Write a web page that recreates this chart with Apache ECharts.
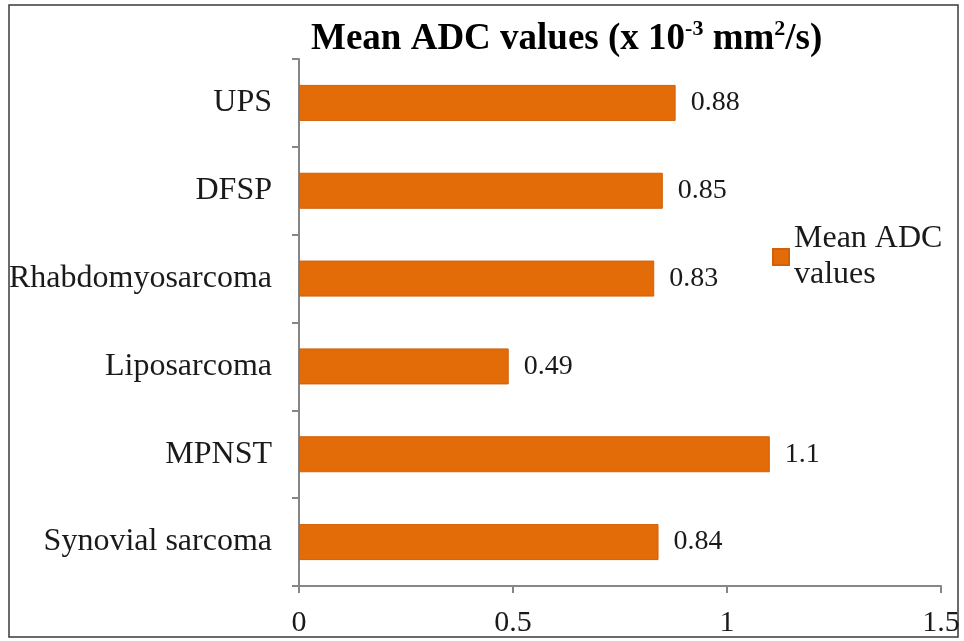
<!DOCTYPE html>
<html><head><meta charset="utf-8">
<script src="https://cdn.jsdelivr.net/npm/echarts@6/dist/echarts.min.js"></script>
<style>html,body{margin:0;padding:0;background:#fff}#c{width:964px;height:641px}</style>
</head><body><div id="c"></div>
<script>
var categories = ['UPS', 'DFSP', 'Rhabdomyosarcoma', 'Liposarcoma', 'MPNST', 'Synovial sarcoma'];
var meanADC = [0.88, 0.85, 0.83, 0.49, 1.1, 0.84];
var seriesName = 'Mean ADC values';
var xTicks = {min: 0, max: 1.5, interval: 0.5};

var FONT = "'Liberation Serif', 'Times New Roman', serif";
var chart = echarts.init(document.getElementById('c'));
chart.setOption({
  animation: false,
  backgroundColor: '#fff',
  title: {
    left: 311, top: 18, padding: 0,
    text: '{b|Mean ADC values (x 10}{s|-3}{b| mm}{s|2}{b|/s)}',
    textStyle: {
      rich: {
        b: {fontFamily: FONT, fontWeight: 'bold', fontSize: 37, color: '#000', lineHeight: 42},
        s: {fontFamily: FONT, fontWeight: 'bold', fontSize: 22, color: '#000', lineHeight: 32, verticalAlign: 'top'}
      }
    }
  },
  legend: {
    left: 772, top: 203, padding: 0,
    orient: 'vertical',
    itemWidth: 16, itemHeight: 16,
    icon: 'rect',
    formatter: function () { return 'Mean ADC\nvalues'; },
    textStyle: {fontFamily: FONT, fontSize: 32, color: '#1a1a1a', lineHeight: 36, padding: [36, 0, 0, 0]}
  },
  graphic: [{
    type: 'rect', silent: true,
    shape: {x: 9, y: 5, width: 949, height: 632},
    style: {fill: 'none', stroke: '#3a3a3a', lineWidth: 1.5}
  }],
  grid: {left: 299, right: 23, top: 59, bottom: 55, containLabel: false},
  xAxis: {
    type: 'value', min: xTicks.min, max: xTicks.max, interval: xTicks.interval,
    splitLine: {show: false},
    axisLine: {show: true, lineStyle: {color: '#868686', width: 2}},
    axisTick: {show: true, length: 7, lineStyle: {color: '#868686', width: 2}},
    axisLabel: {fontFamily: FONT, fontSize: 30, color: '#1a1a1a', margin: 22}
  },
  yAxis: {
    type: 'category', data: categories, inverse: true,
    axisLine: {show: true, lineStyle: {color: '#868686', width: 2}},
    axisTick: {show: true, length: 7, lineStyle: {color: '#868686', width: 2}},
    axisLabel: {fontFamily: FONT, fontSize: 32, color: '#1a1a1a', margin: 27}
  },
  series: [{
    name: seriesName, type: 'bar', data: meanADC,
    barWidth: '41%',
    itemStyle: {color: '#E36C09', borderColor: '#D0600A', borderWidth: 1},
    label: {show: true, position: 'right', distance: 15, fontFamily: FONT, fontSize: 28, color: '#1a1a1a'}
  }]
});
</script></body></html>
